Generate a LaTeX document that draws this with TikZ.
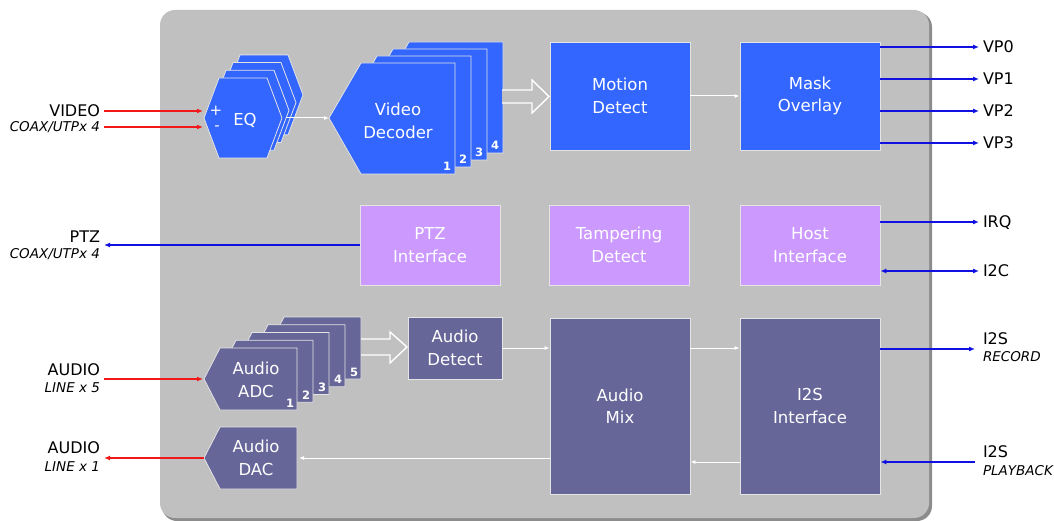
\documentclass[tikz,border=0pt]{standalone}
\usepackage{fontspec}
\setmainfont{DejaVu Sans}
\usetikzlibrary{arrows.meta,calc}
\definecolor{bggray}{HTML}{C0C0C0}
\definecolor{shadowc}{HTML}{8C8C8C}
\definecolor{vblue}{HTML}{3366FF}
\definecolor{lpurple}{HTML}{CC99FF}
\definecolor{dpurple}{HTML}{666699}
\definecolor{edgec}{HTML}{E4E4E4}
\definecolor{linkblue}{HTML}{1010E0}
\definecolor{linkred}{HTML}{F01818}
\begin{document}
\begin{tikzpicture}[x=1pt,y=-1pt,
  box/.style={draw=edgec, line width=0.8pt, text=white, align=center,
    font=\fontsize{16.5}{22.5}\selectfont, inner sep=0pt},
  bluebox/.style={box, fill=vblue},
  ltbox/.style={box, fill=lpurple},
  dkbox/.style={box, fill=dpurple},
  stackshape/.style={draw=edgec, line width=0.8pt},
  intext/.style={text=white, align=center, font=\fontsize{16.5}{22.5}\selectfont, inner sep=0pt},
  numtext/.style={text=white, font=\fontsize{11.5}{11.5}\selectfont\bfseries, inner sep=0pt},
  lab/.style={font=\fontsize{16}{16}\selectfont, inner sep=0pt, outer sep=4pt, text height=11.5pt, text depth=0pt},
  sublab/.style={font=\fontsize{13.5}{13.5}\selectfont\itshape, inner sep=0pt, outer sep=4pt, text height=9.5pt, text depth=0pt},
  bluearr/.style={draw=linkblue, line width=1.3pt, -{Latex[length=6pt,width=5pt]}},
  bluedbl/.style={draw=linkblue, line width=1.3pt, {Latex[length=6pt,width=5pt]}-{Latex[length=6pt,width=5pt]}},
  redarr/.style={draw=linkred, line width=1.3pt, -{Latex[length=6pt,width=5pt]}},
  whitearr/.style={draw=white, line width=1pt, -{Latex[length=5pt,width=4pt]}},
  hollow/.style={draw=white, line width=1.4pt, fill=bggray, line join=miter}
]
\useasboundingbox (0,0) rectangle (1054,521);

% chip background
\fill[shadowc, rounded corners=15pt] (162,12) rectangle (932,521);
\fill[bggray, rounded corners=15pt] (160,10) rectangle (929,518);

% ---------- EQ stack ----------
\foreach \k in {3,2,1,0} {
  \filldraw[stackshape, fill=vblue, shift={({7*\k},{-7.7*\k})}]
    (204,118) -- (219,78) -- (267,78) -- (282,118) -- (267,158) -- (219,158) -- cycle;
}
\node[intext] (eq) at (245,120) {EQ};
\node[intext, font=\fontsize{15}{15}\selectfont] (eqplus) at (216,111) {+};
\node[intext, font=\fontsize{15}{15}\selectfont] (eqminus) at (217,128) {-};
\coordinate (eqin1) at (203,111);
\coordinate (eqin2) at (203,127);
\coordinate (eqR) at (286,118);

% ---------- Video decoder stack ----------
\foreach \k/\n in {3/4,2/3,1/2,0/1} {
  \filldraw[stackshape, fill=vblue, shift={({16*\k},{-7*\k})}]
    (329,118) -- (361,63) -- (455,63) -- (455,174) -- (361,174) -- cycle;
  \node[numtext] (vdnum\n) at ({447+16*\k},{166-7*\k}) {\n};
}
\node[intext] (vdec) at (398,121) {Video\\Decoder};
\coordinate (vdecL) at (329,118);

% hollow arrow video
\draw[hollow] (502,90) -- (532,90) -- (532,80) -- (549,96.5) -- (532,113) -- (532,103) -- (502,103);

% ---------- top row boxes ----------
\node[bluebox, minimum width=140pt, minimum height=108pt] (motion) at (620,96) {Motion\\Detect};
\node[bluebox, minimum width=140pt, minimum height=108pt] (mask) at (810,96) {Mask\\Overlay};

% ---------- middle row ----------
\node[ltbox, minimum width=140pt, minimum height=80pt] (ptz) at (430,245) {PTZ\\Interface};
\node[ltbox, minimum width=140pt, minimum height=80pt] (tamper) at (619,245) {Tampering\\Detect};
\node[ltbox, minimum width=140pt, minimum height=80pt] (host) at (810,245) {Host\\Interface};

% ---------- audio ADC stack ----------
\foreach \k/\n in {4/5,3/4,2/3,1/2,0/1} {
  \filldraw[stackshape, fill=dpurple, shift={({16*\k},{-7.75*\k})}]
    (204,379) -- (220,348) -- (297,348) -- (297,410) -- (220,410) -- cycle;
  \node[numtext] (adnum\n) at ({290+16*\k},{403-7.75*\k}) {\n};
}
\node[intext] (adc) at (256,380) {Audio\\ADC};
\coordinate (adcL) at (203,379);

% hollow arrow audio
\draw[hollow] (361,339) -- (390,339) -- (390,332) -- (407,347) -- (390,363) -- (390,355) -- (361,355);

% audio DAC
\filldraw[stackshape, fill=dpurple] (204,458) -- (220,427) -- (297,427) -- (297,489) -- (220,489) -- cycle;
\node[intext] (dac) at (256,458) {Audio\\DAC};
\coordinate (dacL) at (204,458);
\coordinate (dacR) at (299,458);

\node[dkbox, minimum width=94pt, minimum height=62pt] (adet) at (455,348) {Audio\\Detect};
\node[dkbox, minimum width=140pt, minimum height=176pt] (amix) at (620,406) {Audio\\Mix};
\node[dkbox, minimum width=140pt, minimum height=176pt] (i2s) at (810,406) {I2S\\Interface};

% ---------- left labels ----------
\node[lab, anchor=east] (vidlab) at (104,111) {VIDEO};
\node[sublab, anchor=east] (vidsub) at (104,127) {COAX/UTPx 4};
\node[lab, anchor=east] (ptzlab) at (104,237) {PTZ};
\node[sublab, anchor=east] (ptzsub) at (104,254) {COAX/UTPx 4};
\node[lab, anchor=east] (ainlab) at (104,370) {AUDIO};
\node[sublab, anchor=east] (ainsub) at (104,388) {LINE x 5};
\node[lab, anchor=east] (aoutlab) at (104,448) {AUDIO};
\node[sublab, anchor=east] (aoutsub) at (104,467) {LINE x 1};

% ---------- right labels ----------
\node[lab, anchor=west] (vp0) at (979,47) {VP0};
\node[lab, anchor=west] (vp1) at (979,79) {VP1};
\node[lab, anchor=west] (vp2) at (979,111) {VP2};
\node[lab, anchor=west] (vp3) at (979,143) {VP3};
\node[lab, anchor=west] (irq) at (979,222) {IRQ};
\node[lab, anchor=west] (i2c) at (979,271) {I2C};
\node[lab, anchor=west] (reclab) at (979,339) {I2S};
\node[sublab, anchor=west] (recsub) at (979,357) {RECORD};
\node[lab, anchor=west] (pblab) at (979,452) {I2S};
\node[sublab, anchor=west] (pbsub) at (979,471) {PLAYBACK};
\coordinate (rec) at (975,349);
\coordinate (play) at (975,462);

% ---------- connectors ----------
\draw[redarr] (vidlab.east) -- (eqin1);
\draw[redarr] (vidsub.east) -- (eqin2);
\draw[whitearr] (eqR) -- (vdecL);
\draw[whitearr] (motion.east) -- (mask.west);
\foreach \v in {vp0,vp1,vp2,vp3} {
  \draw[bluearr] (mask.east |- \v.west) -- (\v.west);
}
\draw[bluearr] (ptz.west) -- (ptz.west -| ptzlab.east);
\draw[bluearr] (host.east |- irq.west) -- (irq.west);
\draw[bluedbl] (host.east |- i2c.west) -- (i2c.west);

\draw[redarr] (adcL -| ainlab.east) -- (adcL);
\draw[redarr] (dacL) -- (dacL -| aoutlab.east);
\draw[whitearr] (adet.east) -- (adet.east -| amix.west);
\draw[whitearr] (amix.east |- adet.east) -- (i2s.west |- adet.east);
\draw[whitearr] (i2s.west |- play) -- (amix.east |- play);
\draw[whitearr] (amix.west |- dacR) -- (dacR);
\draw[bluearr] (i2s.east |- rec) -- (rec);
\draw[bluearr] (play) -- (i2s.east |- play);
\end{tikzpicture}
\end{document}
